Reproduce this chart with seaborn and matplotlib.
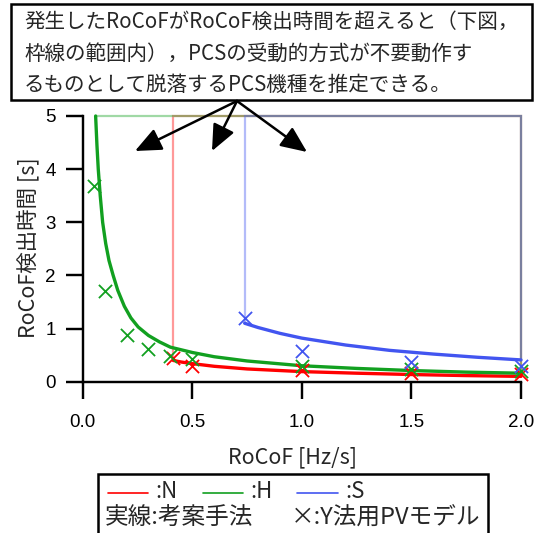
import matplotlib
matplotlib.use("Agg")
import matplotlib.pyplot as plt
from matplotlib.patches import Rectangle, FancyArrowPatch
from matplotlib.lines import Line2D, TICKDOWN, TICKLEFT
from matplotlib.transforms import blended_transform_factory
import seaborn as sns

# --- data ---------------------------------------------------------------
T_MAX = 5.0  # upper limit of the RoCoF detection time [s]

# proposed method (solid curves): RoCoF [Hz/s] vs detection time [s]
n_rocof = [0.413, 0.45, 0.5, 0.6, 0.75, 1.0, 1.25, 1.5, 1.75, 2.0]
n_time = [0.40, 0.37, 0.34, 0.29, 0.24, 0.19, 0.16, 0.135, 0.115, 0.10]

h_rocof = [0.059, 0.065, 0.071, 0.08, 0.091, 0.105, 0.12, 0.139, 0.16, 0.19,
           0.22, 0.253, 0.3, 0.35, 0.4, 0.5, 0.6, 0.75, 1.0, 1.25, 1.5, 1.75, 2.0]
h_time = [5.0, 4.45, 4.0, 3.5, 3.0, 2.6, 2.28, 2.0, 1.72, 1.42,
          1.2, 1.03, 0.87, 0.75, 0.65, 0.55, 0.47, 0.39, 0.30, 0.25, 0.21, 0.18, 0.16]

s_rocof = [0.739, 0.8, 0.9, 1.0, 1.2, 1.4, 1.6, 1.8, 2.0]
s_time = [1.10, 1.02, 0.91, 0.82, 0.69, 0.59, 0.52, 0.46, 0.41]

# Y-method PV model results (x markers)
n_pv_rocof = [0.41, 0.5, 1.0, 1.5, 2.0]
n_pv_time = [0.45, 0.30, 0.22, 0.16, 0.14]

h_pv_rocof = [0.05, 0.1, 0.2, 0.3, 0.4, 0.5, 1.0, 1.5, 2.0]
h_pv_time = [3.69, 1.71, 0.88, 0.62, 0.48, 0.43, 0.30, 0.23, 0.21]

s_pv_rocof = [0.74, 1.0, 1.5, 2.0]
s_pv_time = [1.20, 0.58, 0.37, 0.30]

x_ticks = [0.0, 0.5, 1.0, 1.5, 2.0]
y_ticks = [0, 1, 2, 3, 4, 5]

RED = "#ff0000"
GREEN = "#12a020"
BLUE = "#4255f0"

# --- figure -------------------------------------------------------------
sns.set_style("ticks", {"xtick.color": "black", "ytick.color": "black",
                        "axes.edgecolor": "black"})
plt.rcParams["font.family"] = ["Noto Sans CJK JP", "DejaVu Sans"]

W, H = 541, 533
fig = plt.figure(figsize=(W / 100, H / 100), dpi=100)


def fx(x):
    return x / W


def fy(y):
    return 1 - y / H


ax_l, ax_r, ax_t, ax_b = 82.7, 521.0, 116.0, 381.7
ax = fig.add_axes([fx(ax_l), fy(ax_b), (ax_r - ax_l) / W, (ax_b - ax_t) / H])

series = [
    (n_rocof, n_time, n_pv_rocof, n_pv_time, RED),
    (h_rocof, h_time, h_pv_rocof, h_pv_time, GREEN),
    (s_rocof, s_time, s_pv_rocof, s_pv_time, BLUE),
]

# translucent frames enclosing the region where each PCS type trips
for xs, ts, _, _, c in series:
    frame_x = [xs[0], xs[0], xs[-1], xs[-1]]
    frame_y = [ts[0], T_MAX, T_MAX, ts[-1]]
    ax.plot(frame_x, frame_y, color=c, lw=1.6, alpha=0.4, clip_on=False,
            solid_joinstyle="miter", zorder=2)

for xs, ts, _, _, c in series:
    sns.lineplot(x=xs, y=ts, color=c, lw=2.4, sort=False, estimator=None,
                 ax=ax, clip_on=False, zorder=3)

for _, _, pv_x, pv_t, c in series:
    sns.scatterplot(x=pv_x, y=pv_t, marker="x", s=90, color=c, linewidth=1.3,
                    ax=ax, clip_on=False, zorder=4)

ax.set_xlim(0, 2.0)
ax.set_ylim(0, 5.0)
ax.set_xticks(x_ticks)
ax.set_xticklabels([f"{v:.1f}" for v in x_ticks])
ax.set_yticks(y_ticks)
ax.set_yticklabels([str(v) for v in y_ticks])
for side in ("top", "right"):
    ax.spines[side].set_visible(False)
for side in ("left", "bottom"):
    ax.spines[side].set_linewidth(1.6)
    ax.spines[side].set_edgecolor("black")
ax.tick_params(axis="both", which="major", direction="out", length=12.5,
               width=1.6, color="black", labelcolor="black",
               bottom=True, left=True, labelsize=13.5)
ax.tick_params(axis="x", pad=11)
ax.tick_params(axis="y", pad=7)
for t in ax.xaxis.get_major_ticks() + ax.yaxis.get_major_ticks():
    t.label1.set_fontfamily(["Liberation Sans", "DejaVu Sans"])

# axis lines and outward tick marks, laid over the figure
fig.add_artist(Line2D([0, 1], [0, 0], transform=ax.transAxes, color="black",
                      lw=1.6, solid_capstyle="projecting", zorder=5))
fig.add_artist(Line2D([0, 0], [0, 1], transform=ax.transAxes, color="black",
                      lw=1.6, solid_capstyle="projecting", zorder=5))
x_tick_tr = blended_transform_factory(ax.transData, ax.transAxes)
y_tick_tr = blended_transform_factory(ax.transAxes, ax.transData)
fig.add_artist(Line2D(x_ticks, [0] * len(x_ticks), transform=x_tick_tr,
                      linestyle="none", marker=TICKDOWN, markersize=12.5,
                      markeredgewidth=1.6, color="black", zorder=5))
fig.add_artist(Line2D([0] * len(y_ticks), y_ticks, transform=y_tick_tr,
                      linestyle="none", marker=TICKLEFT, markersize=12.5,
                      markeredgewidth=1.6, color="black", zorder=5))

fig.text(fx(292), fy(457), "RoCoF [Hz/s]", ha="center", va="center", fontsize=15.5)
fig.text(fx(28), fy(248), "RoCoF検出時間 [s]", ha="center", va="center",
         rotation=90, fontsize=15.5)

# --- explanatory note with arrows ----------------------------------------
fig.add_artist(Rectangle((fx(11), fy(100)), (532 - 11) / W, (100 - 4) / H,
                         transform=fig.transFigure, fill=False,
                         edgecolor="black", lw=1.8))
note = ["発生したRoCoFがRoCoF検出時間を超えると（下図，",
        "枠線の範囲内），PCSの受動的方式が不要動作す",
        "るものとして脱落するPCS機種を推定できる。"]
for line, yc in zip(note, [22, 54, 85]):
    fig.text(fx(24), fy(yc), line, ha="left", va="center", fontsize=14.8)

for tip in [(135, 151), (212, 151), (307, 152)]:
    fig.add_artist(FancyArrowPatch(
        (fx(237), fy(101)), (fx(tip[0]), fy(tip[1])),
        transform=fig.transFigure, arrowstyle="-|>,head_length=0.8,head_width=0.35",
        mutation_scale=20, lw=1.8, color="black", shrinkA=0, shrinkB=0))

# --- legend box -----------------------------------------------------------
fig.add_artist(Rectangle((fx(98), fy(545)), (488 - 98) / W, (545 - 474) / H,
                         transform=fig.transFigure, fill=False,
                         edgecolor="black", lw=1.8))
for (x0, x1, xt, name, c) in [(108, 148, 155, ":N", RED),
                              (203, 243, 250, ":H", GREEN),
                              (297, 338, 345, ":S", BLUE)]:
    fig.add_artist(Line2D([fx(x0), fx(x1)], [fy(493), fy(493)],
                          transform=fig.transFigure, color=c, lw=1.2))
    fig.text(fx(xt), fy(492), name, ha="left", va="center", fontsize=16)
fig.text(fx(105), fy(518), "実線:考案手法", ha="left", va="center", fontsize=17)
fig.text(fx(291), fy(518), "×:Y法用PVモデル", ha="left", va="center", fontsize=17)

fig.savefig("out.png", dpi=100)
